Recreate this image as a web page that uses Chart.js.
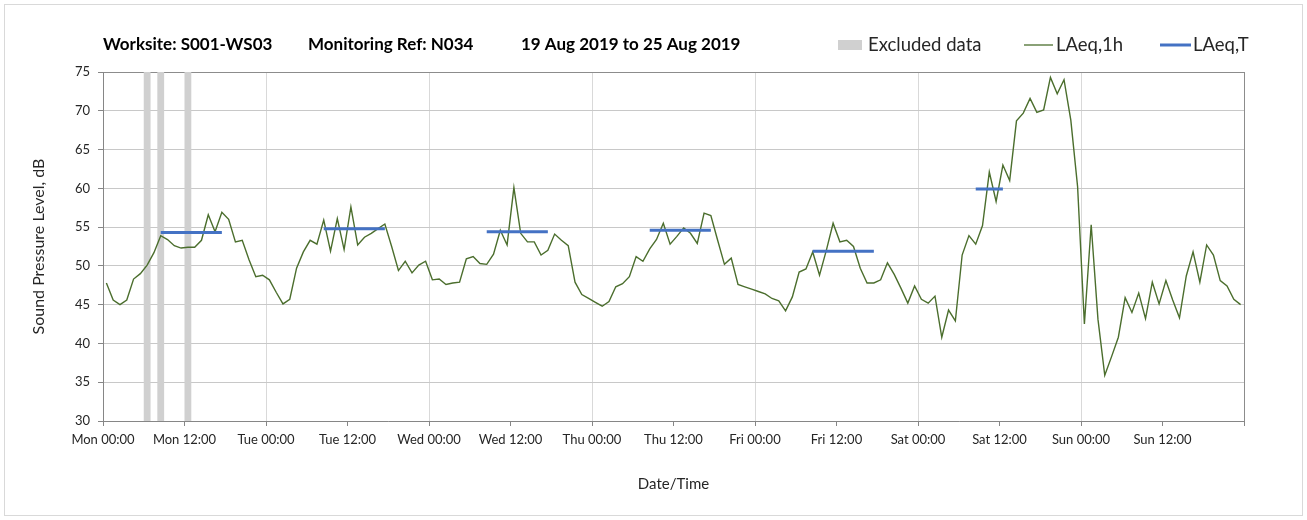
<!DOCTYPE html>
<html>
<head>
<meta charset="utf-8">
<script src="https://cdn.jsdelivr.net/npm/chart.js@4.4.1/dist/chart.umd.min.js"></script>
<style>
html,body{margin:0;padding:0;background:#fff;}
#wrap{position:absolute;left:0;top:0;width:1307px;height:520px;}
#frame{position:absolute;left:4px;top:4px;width:1299px;height:512px;border:1px solid #d9d9d9;box-sizing:border-box;pointer-events:none;}
canvas{position:absolute;left:0;top:0;}
</style>
</head>
<body>
<div id="wrap"><canvas id="c" width="1307" height="520"></canvas><div id="frame"></div></div>
<script>
// ---- DATA ----
const titleParts = ['Worksite: S001-WS03', 'Monitoring Ref: N034', '19 Aug 2019 to 25 Aug 2019'];
const xTitle = 'Date/Time';
const yTitle = 'Sound Pressure Level, dB';
const seriesNames = ['Excluded data', 'LAeq,1h', 'LAeq,T'];
const tickLabels = ['Mon 00:00','Mon 12:00','Tue 00:00','Tue 12:00','Wed 00:00','Wed 12:00','Thu 00:00','Thu 12:00','Fri 00:00','Fri 12:00','Sat 00:00','Sat 12:00','Sun 00:00','Sun 12:00'];

// hourly LAeq,1h values, Mon 00:00 .. Sun 23:00
const laeq1h = [
 47.8,45.6,45.0,45.6,48.3,49.0,50.1,51.7,53.9,53.4,52.6,52.3,52.4,52.4,53.3,56.6,54.4,56.9,56.0,53.1,53.3,50.8,48.6,48.8,
 48.2,46.6,45.1,45.7,49.7,51.8,53.3,52.8,55.9,51.9,56.1,52.1,57.6,52.7,53.7,54.2,54.8,55.4,52.5,49.4,50.6,49.1,50.1,50.6,
 48.2,48.3,47.6,47.8,47.9,50.9,51.2,50.3,50.2,51.5,54.6,52.7,60.1,54.2,53.1,53.1,51.4,52.0,54.1,53.3,52.6,47.9,46.3,45.8,
 45.3,44.8,45.4,47.3,47.7,48.6,51.2,50.6,52.2,53.4,55.5,52.8,53.8,54.9,54.2,52.9,56.8,56.5,53.3,50.2,51.0,47.6,47.3,47.0,
 46.7,46.4,45.8,45.5,44.2,46.0,49.2,49.6,51.8,48.8,52.0,55.5,53.1,53.3,52.5,49.7,47.8,47.8,48.2,50.4,48.9,47.1,45.2,47.4,
 45.7,45.2,46.1,40.8,44.3,42.9,51.4,53.9,52.8,55.2,62.1,58.3,63.0,61.0,68.7,69.7,71.6,69.8,70.1,74.3,72.2,74.0,68.8,60.2,
 42.5,55.3,43.1,35.9,38.3,40.8,45.9,44.0,46.5,43.2,47.9,45.1,48.1,45.6,43.3,48.7,51.8,47.9,52.7,51.4,48.1,47.4,45.7,45.0
];

// LAeq,T daytime periods (hour index of first and last hour)
const periodFirstHour = [8, 32, 56, 80, 104, 128];
const periodLastHour  = [17, 41, 65, 89, 113, 132];
const periodValue     = [54.3, 54.8, 54.4, 54.6, 51.9, 59.9];

// excluded data hours (start hour index, 1 hour each)
const excludedHour = [6, 8, 12];

// ---- BUILD ----
const greenColor = '#4b6e2d';
const blueColor = '#4472c4';
const greyColor = '#d0d0d0';

const lineData = laeq1h.map((v, i) => ({x: i + 0.5, y: v}));
const periodData = [];
periodFirstHour.forEach((s, k) => {
  periodData.push({x: s + 0.5, y: periodValue[k]});
  periodData.push({x: periodLastHour[k] + 0.5, y: periodValue[k]});
  periodData.push({x: periodLastHour[k] + 0.6, y: null});
});

const excludedPlugin = {
  id: 'excluded',
  beforeDatasetsDraw(chart) {
    const {ctx, chartArea, scales: {x}} = chart;
    ctx.save();
    ctx.fillStyle = greyColor;
    excludedHour.forEach(h => {
      const x0 = x.getPixelForValue(h), x1 = x.getPixelForValue(h + 1);
      ctx.fillRect(x0, chartArea.top, x1 - x0, chartArea.bottom - chartArea.top);
    });
    ctx.restore();
  }
};

const headerPlugin = {
  id: 'header',
  afterDraw(chart) {
    const ctx = chart.ctx;
    ctx.save();
    ctx.fillStyle = '#000';
    ctx.textBaseline = 'alphabetic';
    ctx.font = 'bold 17px Lato';
    const tx = [103, 308, 521];
    titleParts.forEach((t, i) => ctx.fillText(t, tx[i], 50));
    // legend
    ctx.font = '18.5px Lato';
    ctx.fillStyle = greyColor;
    ctx.fillRect(838, 40, 24, 10);
    ctx.fillStyle = '#262626';
    ctx.fillText(seriesNames[0], 868, 51);
    ctx.strokeStyle = greenColor; ctx.lineWidth = 1.3;
    ctx.beginPath(); ctx.moveTo(1024, 45); ctx.lineTo(1053, 45); ctx.stroke();
    ctx.fillText(seriesNames[1], 1056, 51);
    ctx.strokeStyle = blueColor; ctx.lineWidth = 3;
    ctx.beginPath(); ctx.moveTo(1160, 45); ctx.lineTo(1191, 45); ctx.stroke();
    ctx.fillText(seriesNames[2], 1193, 51);
    ctx.restore();
  }
};

new Chart(document.getElementById('c'), {
  type: 'line',
  data: {
    datasets: [
      {label: seriesNames[2], data: periodData, borderColor: blueColor, borderWidth: 3, pointRadius: 0, spanGaps: false, fill: false},
      {label: seriesNames[1], data: lineData, borderColor: greenColor, borderWidth: 1.4, pointRadius: 0, fill: false, tension: 0}
    ]
  },
  options: {
    responsive: false,
    animation: false,
    layout: {padding: {top: 72, right: 63, bottom: 0, left: 0}},
    plugins: {legend: {display: false}, title: {display: false}, tooltip: {enabled: false}},
    scales: {
      x: {
        type: 'linear', min: 0, max: 168,
        ticks: {stepSize: 12, autoSkip: false, maxRotation: 0, padding: 6, color: '#262626',
                font: {family: 'Lato', size: 13},
                callback: v => tickLabels[v / 12] ?? ''},
        grid: {color: c => c.tick.value === 168 ? '#8c8c8c' : (c.tick.value % 24 === 0 ? '#d9d9d9' : 'rgba(0,0,0,0)'),
               tickColor: '#868686', tickLength: 5, lineWidth: 1},
        border: {color: '#868686'},
        title: {display: true, text: xTitle, color: '#262626', font: {family: 'Lato', size: 15}, padding: {top: 0, bottom: 27}},
        afterFit: s => { s.height = 99; }
      },
      y: {
        min: 30, max: 75,
        ticks: {stepSize: 5, padding: 8, color: '#262626', font: {family: 'Lato', size: 13}},
        grid: {color: c => c.tick.value === 75 ? '#8c8c8c' : '#c8c8c8', tickColor: '#868686', tickLength: 5, lineWidth: 1},
        border: {color: '#868686'},
        title: {display: true, text: yTitle, color: '#262626', font: {family: 'Lato', size: 16}, padding: {top: 29, bottom: 0}},
        afterFit: s => { s.width = 103; }
      }
    }
  },
  plugins: [excludedPlugin, headerPlugin]
});
</script>
</body>
</html>
